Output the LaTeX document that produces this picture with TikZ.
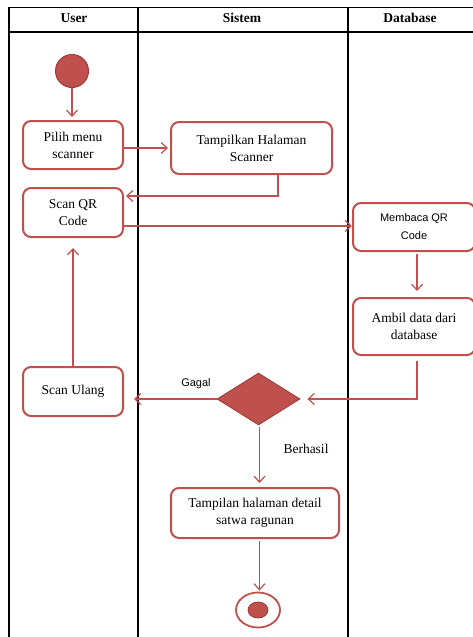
\documentclass[tikz,border=0pt]{standalone}
\usepackage{fontspec}
\setmainfont{Liberation Serif}
\setsansfont{Liberation Sans}
\usetikzlibrary{arrows.meta,shapes.geometric,calc}
\definecolor{actred}{HTML}{C0504D}
\definecolor{actdark}{HTML}{9B3A37}
\tikzset{
  lane/.style={draw=black,line width=1.5pt},
  actbox/.style={draw=actred,line width=2pt,rounded corners=8pt,fill=white,
    align=center,inner sep=2pt,font=\fontsize{13.5}{17}\selectfont},
  flow/.style={draw=actred,line width=1.3pt,-{Straight Barb[length=6pt,width=11pt,line width=1.2pt]}},
  hdr/.style={font=\fontsize{13.5}{16}\selectfont\bfseries},
}
\begin{document}
\begin{tikzpicture}[x=1pt,y=-1pt]
\useasboundingbox (0,0) rectangle (472,637);
% swimlanes
\draw[lane] (9,645) -- (9,7.5) -- (480,7.5);
\draw[lane] (9,32) -- (480,32);
\draw[lane] (138,7.5) -- (138,645);
\draw[lane] (348,7.5) -- (348,645);
\node[hdr] (hu) at (74,18) {User};
\node[hdr] (hs) at (242,18) {Sistem};
\node[hdr] (hd) at (410,18) {Database};
% nodes
\node[circle,fill=actred,draw=actdark,line width=1pt,minimum size=33pt,inner sep=0] (start) at (72,71) {};
\node[actbox,minimum width=100pt,minimum height=48pt] (pilih) at (73,145) {Pilih menu\\scanner};
\node[actbox,minimum width=161pt,minimum height=52pt] (tamp) at (251.5,148) {Tampilkan Halaman\\Scanner};
\node[actbox,minimum width=100pt,minimum height=49pt] (scan) at (73,212.5) {Scan QR\\Code};
\node[actbox,minimum width=122pt,minimum height=48pt,font=\sffamily\fontsize{11}{18}\selectfont] (baca) at (414,227) {Membaca QR\\Code};
\node[actbox,minimum width=122pt,minimum height=57pt] (ambil) at (414,326.5) {Ambil data dari\\database};
\node[actbox,minimum width=100pt,minimum height=49pt] (ulang) at (73,391.5) {\raisebox{4pt}{Scan Ulang}};
\node[diamond,fill=actred,draw=actdark,line width=0.8pt,minimum width=83pt,minimum height=52pt,inner sep=0] (dec) at (258.5,399) {};
\node[actbox,minimum width=168pt,minimum height=50pt] (detail) at (255,513) {Tampilan halaman detail\\satwa ragunan};
\node[ellipse,draw=actred,line width=1.8pt,minimum width=44pt,minimum height=35pt,inner sep=0] (endo) at (258,610) {};
\node[ellipse,fill=actred,draw=actdark,line width=0.8pt,minimum width=20pt,minimum height=16pt,inner sep=0] (endi) at (258,610) {};
\coordinate (ax) at (259.5,0);
% labels
\node[font=\sffamily\fontsize{11}{13}\selectfont] (gagal) at (196,384) {Gagal};
\node[font=\fontsize{13.5}{16}\selectfont] (berhasil) at (306,449) {Berhasil};
% connectors
\draw[flow] (start.south) -- ($(start.south |- pilih.north)+(0,-3)$);
\draw[flow] ($(pilih.east)+(0,3)$) -- ($(tamp.west)+(-2,0)$);
\draw[flow] ($(tamp.south)+(26.5,0)$) |- ($(scan.east)+(2,-16.5)$);
\draw[flow] ($(scan.east)+(0,13.5)$) -- (baca.west |- 0,226);
\draw[flow] ($(baca.south)+(3,2)$) -- ($(ambil.north)+(3,-6)$);
\draw[flow] ($(ambil.south)+(3,5)$) |- ($(dec.east)+(7,0)$);
\draw[flow] (dec.west) -- ($(dec.west -| ulang.east)+(10,0)$);
\draw[flow] (ulang.north) -- ($(scan.south)+(0,10)$);
\draw[flow] ($(ax |- dec.south)+(0,2)$) -- ($(ax |- detail.north)+(0,-4)$);
\draw[flow] ($(ax |- detail.south)+(0,2)$) -- ($(ax |- endo.north)+(0,-1)$);
\end{tikzpicture}
\end{document}
